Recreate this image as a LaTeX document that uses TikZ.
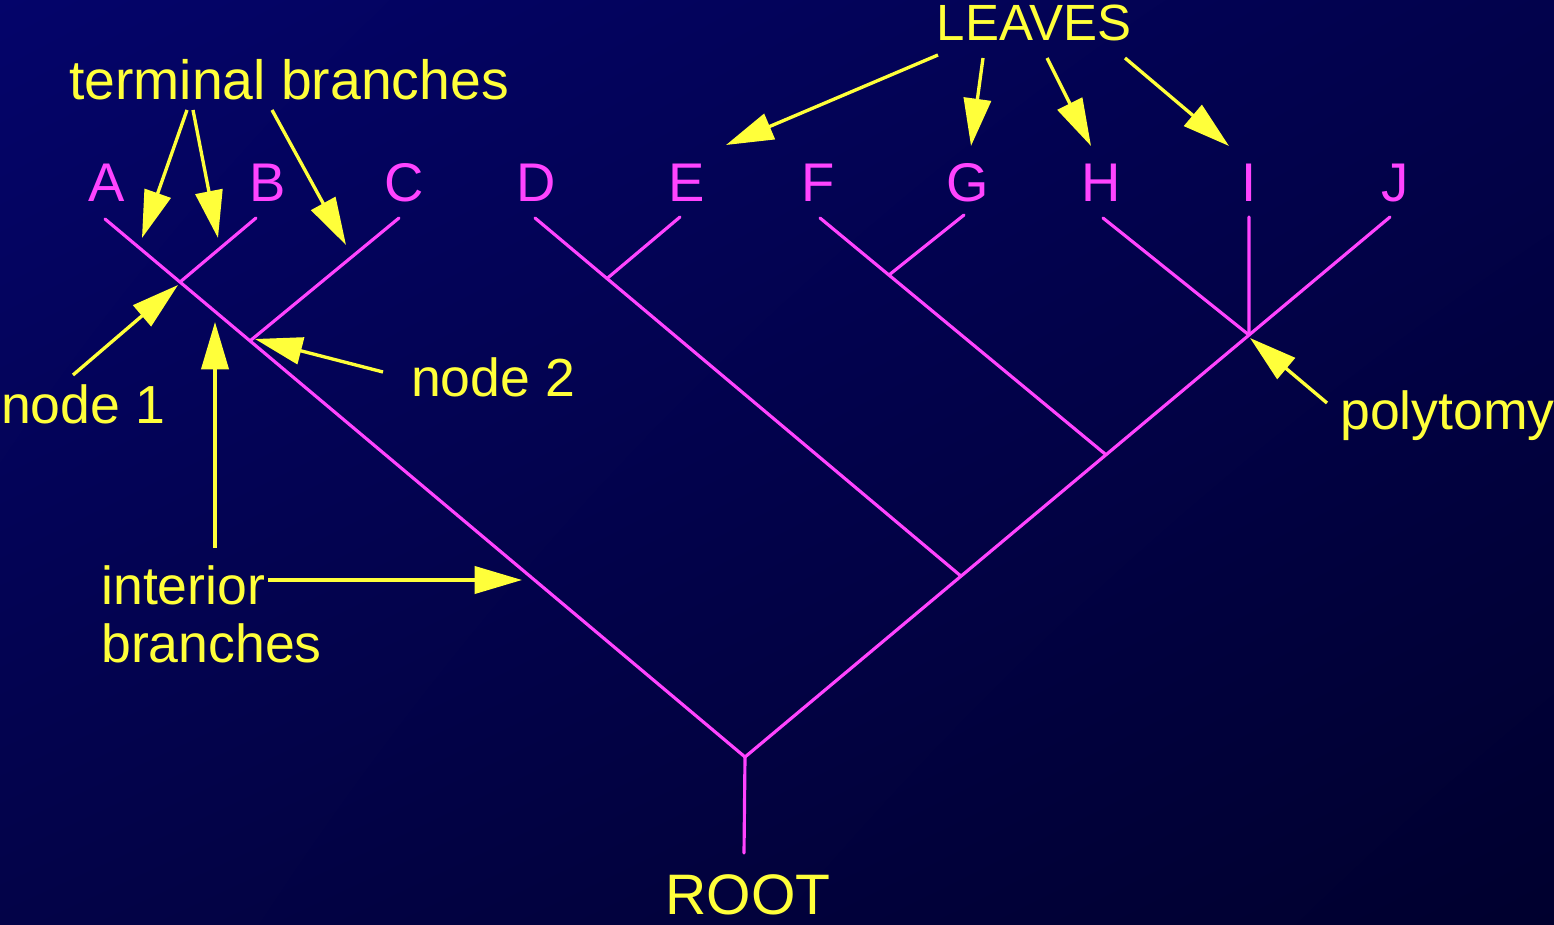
\documentclass[tikz,border=0pt]{standalone}
\usepackage{fontspec}
\setmainfont{Liberation Sans}
\usetikzlibrary{arrows.meta,calc,shadings}
\definecolor{bgUL}{HTML}{04046A}
\definecolor{bgUR}{HTML}{02024C}
\definecolor{bgLL}{HTML}{030348}
\definecolor{bgLR}{HTML}{00002E}
\definecolor{treemag}{HTML}{FF44FF}
\definecolor{labyel}{HTML}{FFFF3A}
\begin{document}
\begin{tikzpicture}[x=0.02cm,y=-0.02cm,
  branch/.style={draw=treemag, line width=1.8pt, line cap=round},
  callout/.style={draw=labyel, line width=1.9pt, -{Triangle[length=27pt,width=15.5pt]}},
  leaf/.style={text=treemag, font=\fontsize{31}{36}\selectfont, anchor=base, inner sep=0pt},
  lab/.style={text=labyel, font=\fontsize{30.5}{36}\selectfont, anchor=base, inner sep=0pt}]
\shade[upper left=bgUL, upper right=bgUR, lower left=bgLL, lower right=bgLR] (0,0) rectangle (1554,925);
\useasboundingbox (0,0) rectangle (1554,925);

% branch ends
\coordinate (root) at (745,757);
\coordinate (rootend) at (744,853);
\coordinate (Aend) at (105,219);
\coordinate (Bend) at (256,218);
\coordinate (Cend) at (399,218);
\coordinate (Dend) at (535,218);
\coordinate (Eend) at (680,217);
\coordinate (Fend) at (820,218);
\coordinate (Gend) at (964,215);
\coordinate (Hend) at (1103,218);
\coordinate (Iend) at (1249,217);
\coordinate (Jend) at (1390,217);
% internal nodes
\coordinate (n1) at ($(root)!0.8828!(Aend)$);
\coordinate (n2) at ($(root)!0.7734!(Aend)$);
\coordinate (nD) at ($(root)!0.3349!(Jend)$);
\coordinate (nF) at ($(root)!0.5597!(Jend)$);
\coordinate (poly) at ($(root)!0.7814!(Jend)$);
\coordinate (nE) at ($(Dend)!0.169!(nD)$);
\coordinate (nG) at ($(Fend)!0.241!(nF)$);

% tree
\draw[branch] (rootend) -- (root);
\draw[branch] (root) -- (Aend);
\draw[branch] (root) -- (Jend);
\draw[branch] (n1) -- (Bend);
\draw[branch] (n2) -- (Cend);
\draw[branch] (nD) -- (Dend);
\draw[branch] (nE) -- (Eend);
\draw[branch] (nF) -- (Fend);
\draw[branch] (nG) -- (Gend);
\draw[branch] (poly) -- (Hend);
\draw[branch] (poly) -- (Iend);

% leaf labels
\node[leaf] (A) at (107,202) {A};
\node[leaf] (B) at (268,202) {B};
\node[leaf] (C) at (404,202) {C};
\node[leaf] (D) at (536,202) {D};
\node[leaf] (E) at (687,202) {E};
\node[leaf] (F) at (818,202) {F};
\node[leaf] (G) at (968,202) {G};
\node[leaf] (H) at (1101,202) {H};
\node[leaf] (I) at (1249,202) {I};
\node[leaf] (J) at (1395,202) {J};

% yellow labels
\node[lab, font=\fontsize{31.5}{36}\selectfont] (term) at (289,100) {terminal branches};
\node[lab, font=\fontsize{29}{34}\selectfont] (leaves) at (1034,41) {LEAVES};
\node[lab] (node1) at (83,423) {node 1};
\node[lab] (node2) at (493,397) {node 2};
\node[lab, anchor=base west] (interior) at (101,604) {interior};
\node[lab, anchor=base west] (branches) at (101,662) {branches};
\node[lab, anchor=base west] (polyt) at (1340,430) {polytomy};
\node[lab, font=\fontsize{32.5}{36}\selectfont] (rootl) at (748,914) {ROOT};

% callout arrows
\coordinate (tA) at (142,238);
\coordinate (tB) at (218,238);
\coordinate (tC) at (346,245);
\coordinate (tE) at (726,145);
\coordinate (tG) at (971,146);
\coordinate (tH) at (1091,146);
\coordinate (tI) at (1229,146);
\coordinate (t1) at (178,285);
\coordinate (tUp) at (215,322);
\coordinate (tRight) at (522,580);
\coordinate (t2) at (255,339);
\coordinate (tP) at (1250,338);

\draw[callout] (187,110) -- (tA);
\draw[callout] (193,110) -- (tB);
\draw[callout] (272,110) -- (tC);
\draw[callout] (938,55) -- (tE);
\draw[callout] (983,58) -- (tG);
\draw[callout] (1047,58) -- (tH);
\draw[callout] (1125,58) -- (tI);
\draw[callout] (73,375) -- (t1);
\draw[callout] (215,548) -- (tUp);
\draw[callout] (268,580) -- (tRight);
\draw[callout] (383,372) -- (t2);
\draw[callout] (1327,403) -- (tP);
\end{tikzpicture}
\end{document}
